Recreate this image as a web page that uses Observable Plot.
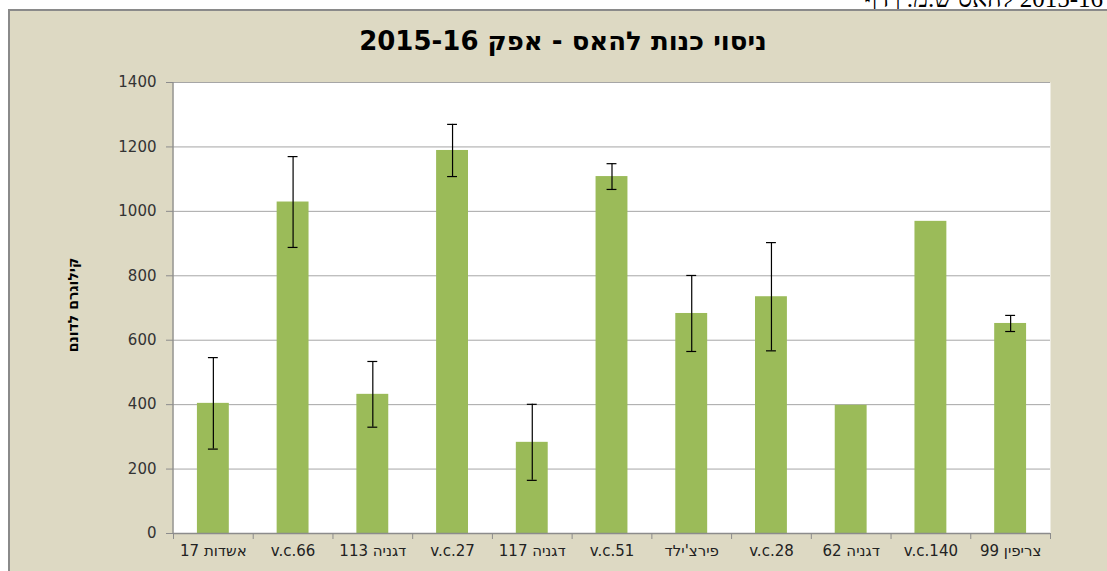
<!DOCTYPE html>
<html>
<head>
<meta charset="utf-8">
<script src="https://cdn.jsdelivr.net/npm/d3@7"></script>
<script src="https://cdn.jsdelivr.net/npm/@observablehq/plot@0.6"></script>
<style>
  html, body { margin: 0; padding: 0; background: #ffffff; overflow: hidden; }
  #page { position: relative; width: 1107px; height: 571px; overflow: hidden; }
  #doc { position: absolute; top: -15px; right: 4px; font-family: "Liberation Serif", serif; font-size: 25px; color: #000; direction: rtl; white-space: nowrap; }
  #frame { position: absolute; left: 8px; top: 9px; width: 1120px; height: 600px; background: #DDD9C3; border: 2px solid #8a8a8a; box-sizing: border-box; }
  #title { position: absolute; left: 0; width: 1126px; top: 26px; text-align: center; font-family: "DejaVu Sans", sans-serif; font-weight: bold; font-size: 26px; color: #000; direction: rtl; }
  #ylabel { position: absolute; left: 73px; top: 305px; transform: translate(-50%, -50%) rotate(-90deg); font-family: "DejaVu Sans", sans-serif; font-weight: bold; font-size: 14px; color: #000; direction: rtl; white-space: nowrap; }
  #chart { position: absolute; left: 0; top: 0; }
</style>
</head>
<body>
<div id="page">
  <div id="doc">2015-16 להאס ש.מ. | דף</div>
  <div id="frame"></div>
  <div id="title">ניסוי כנות להאס - אפק 2015-16</div>
  <div id="ylabel">קילוגרם לדונם</div>
  <div id="chart"></div>
</div>
<script>
const categories = ["אשדות 17", "v.c.66", "דגניה 113", "v.c.27", "דגניה 117", "v.c.51", "פירצ'ילד", "v.c.28", "דגניה 62", "v.c.140", "צריפין 99"];
const yields = [404, 1029, 432, 1189, 283, 1108, 683, 735, 398, 969, 652];
const errors = [142, 141, 102, 81, 118, 40, 118, 168, null, null, 25];
const yTicks = [0, 200, 400, 600, 800, 1000, 1200, 1400];

const data = categories.map((name, i) => ({name, value: yields[i], err: errors[i]}));
const withErr = data.filter(d => d.err != null);

const W = 1107, H = 571;
const mL = 173, mR = 57, mT = 82, mB = 38;
const step = (W - mL - mR) / categories.length;
const font = "'DejaVu Sans', sans-serif";

const chart = Plot.plot({
  width: W,
  height: H,
  marginLeft: mL,
  marginRight: mR,
  marginTop: mT,
  marginBottom: mB,
  style: {background: "transparent", fontFamily: font, fontSize: "15px", color: "#404040", overflow: "visible"},
  x: {domain: categories, paddingInner: 0.6, paddingOuter: 0.3, round: false, label: null},
  y: {domain: [0, 1400], label: null},
  marks: [
    Plot.frame({fill: "white", stroke: null}),
    Plot.gridY(yTicks, {stroke: "#a6a6a6", strokeOpacity: 1}),
    Plot.barY(data, {x: "name", y: "value", fill: "#9BBB59"}),
    Plot.ruleX(withErr, {x: "name", y1: d => d.value - d.err, y2: d => d.value + d.err, stroke: "#000", strokeWidth: 1.2}),
    Plot.tickY(withErr, {x: "name", y: d => d.value + d.err, stroke: "#000", strokeWidth: 1.2, insetLeft: 11, insetRight: 11}),
    Plot.tickY(withErr, {x: "name", y: d => d.value - d.err, stroke: "#000", strokeWidth: 1.2, insetLeft: 11, insetRight: 11}),
    Plot.ruleY([0], {stroke: "#8c8c8c", strokeWidth: 1.3}),
    Plot.axisY(yTicks, {tickSize: 7, tickPadding: 10, stroke: "#8c8c8c", fill: "#333", fontSize: 15, tickFormat: d3.format("d"), label: null}),
    Plot.axisX({tickSize: 0, tickPadding: 12, fill: "#222", fontSize: 15, label: null,
      tickFormat: d => /[\u0590-\u05FF]/.test(d) && /\d/.test(d) ? "\u202B" + d + "\u202C" : d}),
    Plot.axisX({tickSize: 6, tickFormat: () => "", stroke: "#8c8c8c", dx: -step / 2, label: null}),
    Plot.axisX([categories[categories.length - 1]], {tickSize: 6, tickFormat: () => "", stroke: "#8c8c8c", dx: step / 2, label: null})
  ]
});

// left axis line drawn with the chart's own scales
const ys = chart.scale("y");
const xs = chart.scale("x");
const svg = d3.select(chart);
const x0 = Math.min(...xs.range);
svg.append("line")
  .attr("x1", x0).attr("x2", x0)
  .attr("y1", ys.apply(0)).attr("y2", ys.apply(1400))
  .attr("stroke", "#8c8c8c").attr("stroke-width", 1.3);

document.getElementById("chart").appendChild(chart);
</script>
</body>
</html>
